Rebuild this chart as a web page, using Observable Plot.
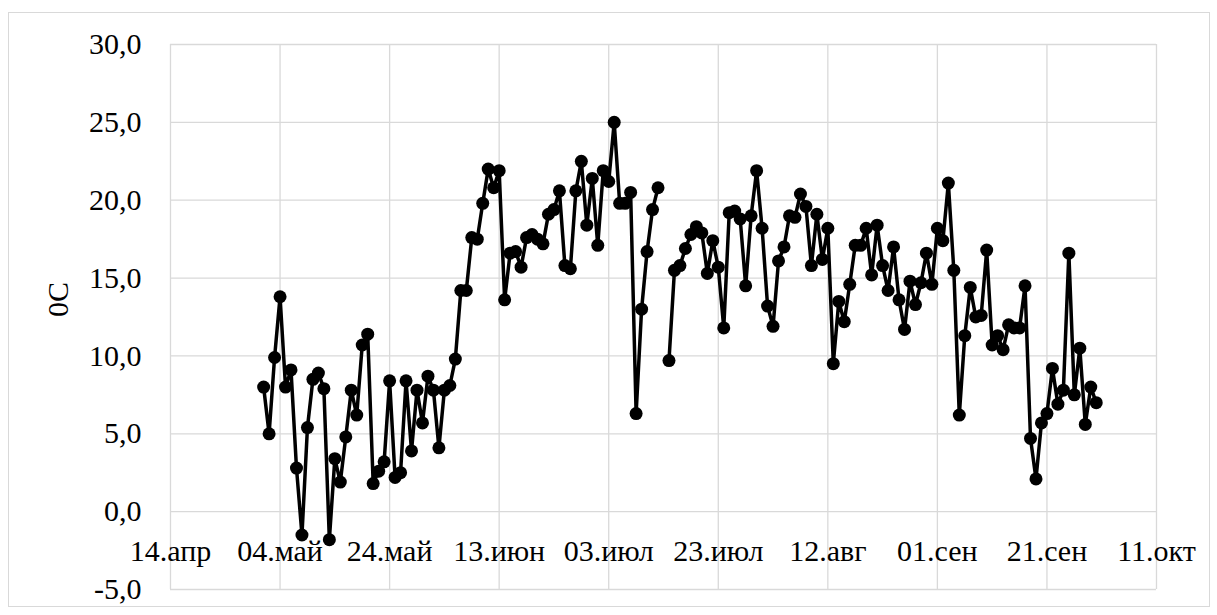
<!DOCTYPE html>
<html><head><meta charset="utf-8">
<script src="https://cdn.jsdelivr.net/npm/d3@7"></script>
<script src="https://cdn.jsdelivr.net/npm/@observablehq/plot@0.6"></script>
<style>
html,body{margin:0;padding:0;background:#fff;}
#wrap{position:relative;width:1217px;height:615px;}
#border{position:absolute;left:8px;top:12px;width:1202px;height:595px;border:1px solid #d9d9d9;box-sizing:border-box;pointer-events:none;}
#wrap svg{position:absolute;left:0;top:0;}
#wrap svg text{font-family:'Liberation Serif','Times New Roman',Tinos,'DejaVu Serif',serif !important;}
</style></head><body><div id="wrap"><div id="border"></div></div>
<script>
// First day of the daily series
const firstDay = "2021-05-01";
// Daily temperature, °C (null = missing day)
const temps = [
  8.0, 5.0, 9.9, 13.8, 8.0, 9.1, 2.8, -1.5, 5.4, 8.5,
  8.9, 7.9, -1.8, 3.4, 1.9, 4.8, 7.8, 6.2, 10.7, 11.4,
  1.8, 2.6, 3.2, 8.4, 2.2, 2.5, 8.4, 3.9, 7.8, 5.7,
  8.7, 7.8, 4.1, 7.8, 8.1, 9.8, 14.2, 14.2, 17.6, 17.5,
  19.8, 22.0, 20.8, 21.9, 13.6, 16.6, 16.7, 15.7, 17.6, 17.8,
  17.5, 17.2, 19.1, 19.4, 20.6, 15.8, 15.6, 20.6, 22.5, 18.4,
  21.4, 17.1, 21.9, 21.2, 25.0, 19.8, 19.8, 20.5, 6.3, 13.0,
  16.7, 19.4, 20.8, null, 9.7, 15.5, 15.8, 16.9, 17.8, 18.3,
  17.9, 15.3, 17.4, 15.7, 11.8, 19.2, 19.3, 18.8, 14.5, 19.0,
  21.9, 18.2, 13.2, 11.9, 16.1, 17.0, 19.0, 18.9, 20.4, 19.6,
  15.8, 19.1, 16.2, 18.2, 9.5, 13.5, 12.2, 14.6, 17.1, 17.1,
  18.2, 15.2, 18.4, 15.8, 14.2, 17.0, 13.6, 11.7, 14.8, 13.3,
  14.7, 16.6, 14.6, 18.2, 17.4, 21.1, 15.5, 6.2, 11.3, 14.4,
  12.5, 12.6, 16.8, 10.7, 11.3, 10.4, 12.0, 11.8, 11.8, 14.5,
  4.7, 2.1, 5.7, 6.3, 9.2, 6.9, 7.8, 16.6, 7.5, 10.5,
  5.6, 8.0, 7.0
];
// X tick dates and labels
const xTickDates = ["2021-04-14","2021-05-04","2021-05-24","2021-06-13","2021-07-03",
                    "2021-07-23","2021-08-12","2021-09-01","2021-09-21","2021-10-11"];
const xTickLabels = ["14.апр","04.май","24.май","13.июн","03.июл",
                     "23.июл","12.авг","01.сен","21.сен","11.окт"];
// Y ticks
const yTicks = [-5, 0, 5, 10, 15, 20, 25, 30];
const yTitle = "0C";

const start = new Date(firstDay + "T00:00:00Z");
const series = temps.map((t, i) => ({date: d3.utcDay.offset(start, i), t}));
const xTicks = xTickDates.map(s => new Date(s + "T00:00:00Z"));
const fmt = d => d.toFixed(1).replace(".", ",");
const FONT = "'Liberation Serif', 'DejaVu Serif', serif";

const chart = Plot.plot({
  width: 1217, height: 615,
  marginLeft: 170, marginRight: 61, marginTop: 44, marginBottom: 26,
  x: {type: "utc", domain: [xTicks[0], xTicks[xTicks.length - 1]], axis: null},
  y: {domain: [yTicks[0], yTicks[yTicks.length - 1]], axis: null},
  style: {background: "transparent", color: "#000", overflow: "visible"},
  marks: [
    Plot.gridX(xTicks, {stroke: "#d9d9d9", strokeOpacity: 1, strokeWidth: 1.3}),
    Plot.gridY(yTicks, {stroke: "#d9d9d9", strokeOpacity: 1, strokeWidth: 1.3}),
    Plot.axisY(yTicks, {tickSize: 0, tickPadding: 29, tickFormat: fmt, fontSize: 30, fontFamily: FONT, label: null, fill: "#000"}),
    Plot.text(xTicks, {x: d => d, y: 0, text: (d, i) => xTickLabels[i], dy: 40, fontSize: 30, fontFamily: FONT, fill: "#000"}),
    Plot.text([yTitle], {frameAnchor: "left", dx: -112, rotate: -90, fontSize: 30, fontFamily: FONT, fill: "#000"}),
    Plot.line(series, {x: "date", y: "t", stroke: "#000", strokeWidth: 3.5}),
    Plot.dot(series, {x: "date", y: "t", r: 6.5, fill: "#000", stroke: "none"})
  ]
});
document.getElementById("wrap").appendChild(chart);
</script>
</body></html>
